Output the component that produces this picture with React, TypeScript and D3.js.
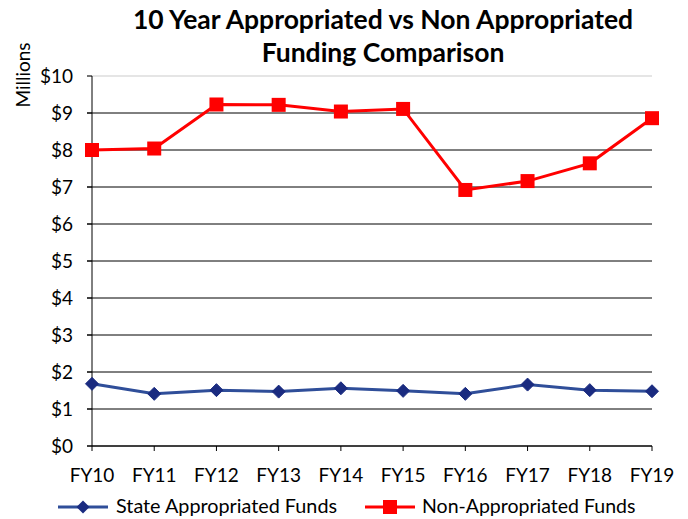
import React from "react";
import * as d3 from "d3";

const categories = ["FY10", "FY11", "FY12", "FY13", "FY14", "FY15", "FY16", "FY17", "FY18", "FY19"];
const stateFunds = [1.68, 1.41, 1.51, 1.47, 1.56, 1.49, 1.41, 1.66, 1.51, 1.48];
const nonAppFunds = [8.0, 8.04, 9.23, 9.22, 9.04, 9.11, 6.92, 7.16, 7.64, 8.86];
const yTicks = [0, 1, 2, 3, 4, 5, 6, 7, 8, 9, 10];
const seriesNames = ["State Appropriated Funds", "Non-Appropriated Funds"];

const W = 688, H = 519;
const left = 92, right = 652, top = 76, bottom = 446;
const font = "Lato, 'Open Sans', sans-serif";

export default function App() {
  const x = d3.scalePoint<string>().domain(categories).range([left, right]);
  const y = d3.scaleLinear().domain([0, 10]).range([bottom, top]);
  const line = d3.line<number>().x((_, i) => x(categories[i])!).y((d) => y(d));
  const blue = "#2F4E99";
  const navy = "#1A2B80";
  const red = "#FF0000";
  const diamond = (cx: number, cy: number, r: number) =>
    `M${cx},${cy - r}L${cx + r},${cy}L${cx},${cy + r}L${cx - r},${cy}Z`;

  return (
    <svg width={W} height={H} style={{ position: "absolute", left: 0, top: 0, background: "#fff" }}>
      <text x={383} y={29} textAnchor="middle" fontFamily={font} fontWeight="bold" fontSize={26.5} fill="#000">
        10 Year Appropriated vs Non Appropriated
      </text>
      <text x={383} y={62} textAnchor="middle" fontFamily={font} fontWeight="bold" fontSize={26.5} fill="#000">
        Funding Comparison
      </text>
      <text transform={`translate(30,75) rotate(-90)`} textAnchor="middle" fontFamily={font} fontSize={19} fill="#000">
        Millions
      </text>
      {yTicks.map((t) => (
        <g key={t}>
          <line x1={left - 5} x2={right} y1={y(t)} y2={y(t)} stroke="#000" strokeWidth={1} opacity={t === 10 ? 0.2 : 1} />
          <line x1={left - 5} x2={left} y1={y(t)} y2={y(t)} stroke="#000" />
          <text x={73} y={y(t) + 7} textAnchor="end" fontFamily={font} fontSize={19} fill="#000">
            ${t}
          </text>
        </g>
      ))}
      <line x1={left} x2={left} y1={top} y2={bottom} stroke="#000" />
      <line x1={left} x2={right} y1={bottom} y2={bottom} stroke="#000" />
      {categories.map((c) => (
        <g key={c}>
          <line x1={x(c)!} x2={x(c)!} y1={bottom} y2={bottom + 5} stroke="#000" />
          <text x={x(c)!} y={482} textAnchor="middle" fontFamily={font} fontSize={19} fill="#000">
            {c}
          </text>
        </g>
      ))}
      <path d={line(stateFunds)!} fill="none" stroke={blue} strokeWidth={3} />
      {stateFunds.map((v, i) => (
        <path key={i} d={diamond(x(categories[i])!, y(v), 6.5)} fill={navy} stroke={navy} strokeWidth={1} />
      ))}
      <path d={line(nonAppFunds)!} fill="none" stroke={red} strokeWidth={3} />
      {nonAppFunds.map((v, i) => (
        <rect key={i} x={x(categories[i])! - 7} y={y(v) - 7} width={14} height={14} fill={red} />
      ))}
      <g>
        <line x1={58} x2={108} y1={507} y2={507} stroke={blue} strokeWidth={3} />
        <path d={diamond(83, 507, 6.5)} fill={navy} />
        <text x={116} y={513} fontFamily={font} fontSize={19.8} fill="#000">{seriesNames[0]}</text>
        <line x1={365} x2={415} y1={507} y2={507} stroke={red} strokeWidth={3} />
        <rect x={383} y={500} width={14} height={14} fill={red} />
        <text x={422} y={513} fontFamily={font} fontSize={19.5} fill="#000">{seriesNames[1]}</text>
      </g>
    </svg>
  );
}
